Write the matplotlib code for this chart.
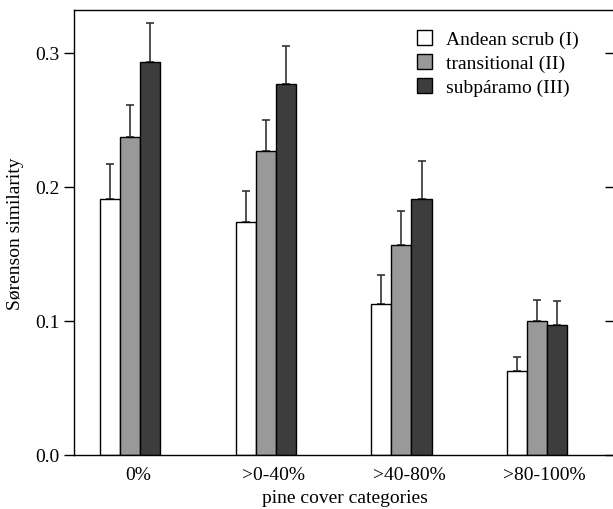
import numpy as np
import matplotlib.pyplot as plt

plt.rcParams['font.family'] = ['Liberation Serif', 'DejaVu Serif']

categories = ['0%', '>0-40%', '>40-80%', '>80-100%']
series = ['Andean scrub (I)', 'transitional (II)', 'subpáramo (III)']
colors = ['white', '#999999', '#3d3d3d']

# mean Sørenson similarity and upper error (SE) per series
scrub = [0.191, 0.174, 0.113, 0.063]
scrub_err = [0.026, 0.023, 0.021, 0.010]
trans = [0.237, 0.227, 0.157, 0.100]
trans_err = [0.024, 0.023, 0.025, 0.016]
subp = [0.293, 0.277, 0.191, 0.097]
subp_err = [0.029, 0.028, 0.028, 0.018]

values = [scrub, trans, subp]
errors = [scrub_err, trans_err, subp_err]

fig = plt.figure(figsize=(6.13, 5.10), dpi=100)
ax = fig.add_axes([74 / 613, 54 / 510, 541 / 613, 445 / 510])

x = np.arange(len(categories))
w = 0.148
shift = -0.055
for i in range(3):
    pos = x + shift + (i - 1) * w
    ax.bar(pos, values[i], width=w, color=colors[i], edgecolor='black',
           linewidth=1.0, label=series[i], zorder=2)
    ax.errorbar(pos, values[i], yerr=[np.zeros(4), errors[i]], fmt='none',
                ecolor='#333333', elinewidth=1.2, capsize=3, capthick=1.2, zorder=1)

ax.set_xlim(-0.47, 3.52)
ax.set_ylim(0, 0.332)
ax.set_yticks([0.0, 0.1, 0.2, 0.3])
ax.set_yticklabels(['0.0', '0.1', '0.2', '0.3'])
ax.set_xticks(x)
ax.set_xticklabels(categories)
ax.tick_params(axis='x', length=0, labelsize=14, pad=8)
ax.tick_params(axis='y', direction='out', length=7, width=1, labelsize=14, right=True)
for t in ax.yaxis.get_ticklines()[1::2]:
    t.set_marker(0)
for s in ax.spines.values():
    s.set_linewidth(1.0)

ax.set_ylabel('Sørenson similarity', fontsize=14, labelpad=8)
ax.set_xlabel('pine cover categories', fontsize=14, labelpad=4)

ax.legend(loc='upper right', bbox_to_anchor=(0.965, 0.995), frameon=False,
          fontsize=14, handlelength=0.8, handleheight=0.8, handletextpad=0.7,
          labelspacing=0.3)

fig.savefig('out.png', dpi=100)
